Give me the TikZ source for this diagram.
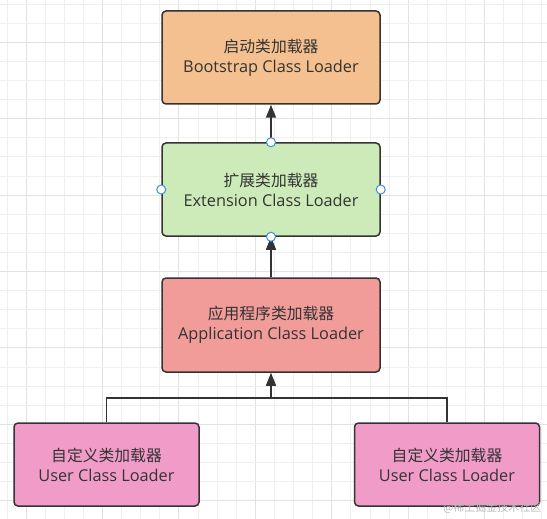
\documentclass[tikz,border=0pt]{standalone}
\usepackage{fontspec}
\setmainfont{Open Sans}
\newfontfamily\cjk{Noto Sans CJK SC}
\usetikzlibrary{arrows.meta}
\definecolor{gridminor}{HTML}{EFEFEF}
\definecolor{gridmajor}{HTML}{E2E2E2}
\definecolor{edge}{HTML}{333333}
\definecolor{bootfill}{HTML}{F5C08F}
\definecolor{extfill}{HTML}{CDEBB9}
\definecolor{appfill}{HTML}{F19C99}
\definecolor{userfill}{HTML}{F19CC8}
\definecolor{portblue}{HTML}{3D8EE8}
\tikzset{
  loaderbox/.style={draw=edge, line width=1.5pt, rounded corners=4pt, align=center,
    text=edge, font=\fontsize{16.3}{20}\selectfont, inner sep=0pt},
  topbox/.style={loaderbox, minimum width=218pt, minimum height=93pt},
  userbox/.style={loaderbox, minimum width=185pt, minimum height=83pt, fill=userfill},
  conn/.style={draw=edge, line width=1.6pt, -{Triangle[length=13pt,width=10pt]}},
  plainline/.style={draw=edge, line width=1.6pt},
  port/.style={circle, draw=portblue, fill=white, line width=1pt, minimum size=9pt, inner sep=0pt},
  watermark/.style={text=black!28, font=\cjk\fontsize{11}{13}\selectfont}
}
\begin{document}
\begin{tikzpicture}[x=1pt,y=-1pt]
\useasboundingbox (0,0) rectangle (547,519);
\fill[white] (0,0) rectangle (547,519);
% grid
\foreach \i in {0,...,28} {
  \pgfmathsetmacro{\gx}{7+19.1*\i}
  \pgfmathtruncatemacro{\m}{mod(\i,4)}
  \ifnum\m=1
    \draw[gridmajor, line width=1pt] (\gx,0) -- (\gx,519);
  \else
    \draw[gridminor, line width=0.8pt] (\gx,0) -- (\gx,519);
  \fi
}
\foreach \j in {0,...,27} {
  \pgfmathsetmacro{\gy}{4+19.1*\j}
  \pgfmathtruncatemacro{\m}{mod(\j,4)}
  \ifnum\m=2
    \draw[gridmajor, line width=1pt] (0,\gy) -- (547,\gy);
  \else
    \draw[gridminor, line width=0.8pt] (0,\gy) -- (547,\gy);
  \fi
}
% boxes
\node[topbox, fill=bootfill] (boot) at (271,57.5) {{\cjk\fontsize{15.8}{20}\selectfont 启动类加载器}\\Bootstrap Class Loader};
\node[topbox, fill=extfill] (ext) at (271,189.5) {{\cjk\fontsize{15.8}{20}\selectfont 扩展类加载器}\\Extension Class Loader};
\node[topbox, fill=appfill, minimum height=94pt] (app) at (271,325) {{\cjk\fontsize{15.8}{20}\selectfont 应用程序类加载器}\\Application Class Loader};
\node[userbox] (u1) at (106.5,464.5) {{\cjk\fontsize{15.8}{20}\selectfont 自定义类加载器}\\User Class Loader};
\node[userbox] (u2) at (447,464.5) {{\cjk\fontsize{15.8}{20}\selectfont 自定义类加载器}\\User Class Loader};
% connectors
\coordinate (j) at (271,398);
\draw[conn] (ext.north) -- (boot.south);
\draw[conn] (app.north) -- (ext.south);
\draw[plainline] (u1.north) |- (j) -| (u2.north);
\draw[conn] (j) -- (app.south);
% ports
\node[port] (pn) at (ext.north) {};
\node[port] (ps) at (ext.south) {};
\node[port] (pw) at (ext.west) {};
\node[port] (pe) at (ext.east) {};
% watermark
\node[watermark, anchor=east] (wm) at (545,508) {@稀土掘金技术社区};
\end{tikzpicture}
\end{document}
